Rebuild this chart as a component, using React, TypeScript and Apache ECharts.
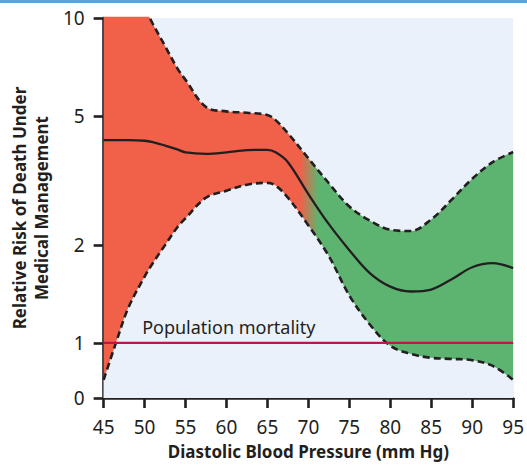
import { useEffect, useRef } from "react";
import * as echarts from "echarts";

// Diastolic blood pressure (mm Hg)
const dbpValues = [45, 46.5, 48, 50, 51, 52.5, 54, 55, 57.5, 60, 62.5, 65, 66, 67.5, 70, 72.5, 75, 77.5, 80, 82.5, 85, 87.5, 90, 92.5, 95];
// Upper 95% confidence bound of relative risk
const upperCI = [28, 19, 14, 10.8, 9.6, 8.2, 7.0, 6.45, 5.32, 5.16, 5.11, 5.03, 4.85, 4.42, 3.7, 3.1, 2.63, 2.38, 2.23, 2.21, 2.4, 2.76, 3.2, 3.6, 3.87];
// Lower 95% confidence bound of relative risk
const lowerCI = [0.77, 1.0, 1.28, 1.6, 1.76, 2.0, 2.27, 2.42, 2.8, 2.94, 3.07, 3.11, 3.05, 2.8, 2.3, 1.85, 1.4, 1.14, 0.98, 0.925, 0.9, 0.893, 0.885, 0.85, 0.77];
// Relative risk estimate
const riskEstimate = [4.21, 4.21, 4.21, 4.19, 4.15, 4.05, 3.94, 3.86, 3.82, 3.86, 3.92, 3.93, 3.86, 3.6, 2.87, 2.32, 1.93, 1.64, 1.49, 1.44, 1.46, 1.57, 1.71, 1.76, 1.7];

const populationMortality = 1;
const populationLabel = "Population mortality";
const populationLabelX = 49.7;

const xTickMin = 45;
const xTickMax = 95;
const xTickStep = 5;
const yTickValues = [0.677, 1, 2, 5, 10];
const yTickLabels = ["0", "1", "2", "5", "10"];

const xTitle = "Diastolic Blood Pressure (mm Hg)";
const yTitle = "Relative Risk of Death Under\nMedical Management";

const lg = (v: number) => Math.log10(v);

export default function App() {
  const ref = useRef<HTMLDivElement>(null);

  useEffect(() => {
    document.body.style.margin = "0";
    if (!ref.current) return;
    const chart = echarts.init(ref.current, undefined, { renderer: "svg" });
    const font = "Noto Sans";
    const axisColor = "#231F20";
    const red = "#F16049";
    const green = "#5DB470";
    const bg = "#EAF1FA";
    const yTickLogs = yTickValues.map(lg);

    const gradient = new echarts.graphic.LinearGradient(0, 0, 1, 0, [
      { offset: 0, color: red },
      { offset: 0.48, color: red },
      { offset: 0.525, color: green },
      { offset: 1, color: green },
    ]);

    const dash = { color: "#231F20", width: 2.6, type: [7, 4] as any };

    chart.setOption({
      animation: false,
      textStyle: { fontFamily: font },
      grid: {
        show: true,
        backgroundColor: bg,
        borderWidth: 0,
        left: 100,
        right: 11,
        top: 18,
        bottom: 68,
      },
      xAxis: {
        type: "value",
        min: xTickMin,
        max: xTickMax,
        interval: xTickStep,
        axisLine: { show: true, onZero: false, lineStyle: { color: axisColor, width: 2.6 } },
        axisTick: { show: true, length: 10, lineStyle: { color: axisColor, width: 2.6 } },
        axisLabel: { color: axisColor, fontSize: 19, margin: 19, fontFamily: font },
        splitLine: { show: false },
        name: xTitle,
        nameLocation: "middle",
        nameGap: 45,
        nameTextStyle: { color: axisColor, fontSize: 17, fontWeight: "bold", fontFamily: font },
      },
      yAxis: {
        type: "value",
        min: yTickLogs[0],
        max: yTickLogs[yTickLogs.length - 1],
        axisLine: { show: true, lineStyle: { color: axisColor, width: 2.6 } },
        axisTick: { show: true, length: 10, customValues: yTickLogs, lineStyle: { color: axisColor, width: 2.6 } },
        axisLabel: {
          customValues: yTickLogs,
          color: axisColor,
          fontSize: 19,
          margin: 19,
          fontFamily: font,
          formatter: (v: number) => {
            const i = yTickLogs.findIndex((t) => Math.abs(t - v) < 1e-6);
            return i >= 0 ? yTickLabels[i] : "";
          },
        },
        splitLine: { show: false },
        name: yTitle,
        nameLocation: "middle",
        nameGap: 51,
        nameTextStyle: { color: axisColor, fontSize: 17, fontWeight: "bold", lineHeight: 22, fontFamily: font },
      },
      series: [
        {
          name: "upper",
          type: "line",
          data: dbpValues.map((x, i) => [x, lg(upperCI[i])]),
          smooth: 0.35,
          symbol: "none",
          lineStyle: dash,
          areaStyle: { color: gradient, opacity: 1, origin: "start" },
          z: 1,
        },
        {
          name: "lower",
          type: "line",
          data: dbpValues.map((x, i) => [x, lg(lowerCI[i])]),
          smooth: 0.35,
          symbol: "none",
          lineStyle: dash,
          areaStyle: { color: bg, opacity: 1, origin: "start" },
          z: 2,
        },
        {
          name: "estimate",
          type: "line",
          data: dbpValues.map((x, i) => [x, lg(riskEstimate[i])]),
          smooth: 0.35,
          symbol: "none",
          lineStyle: { color: "#231F20", width: 2.3 },
          z: 3,
        },
        {
          name: "population",
          type: "line",
          data: [
            [xTickMin, lg(populationMortality)],
            [xTickMax, lg(populationMortality)],
          ],
          symbol: "none",
          lineStyle: { color: "#C0144C", width: 2.3 },
          z: 4,
        },
      ],
    });

    const p = chart.convertToPixel({ xAxisIndex: 0, yAxisIndex: 0 }, [populationLabelX, lg(populationMortality)]) as number[];
    chart.setOption({
      graphic: [
        {
          type: "rect",
          shape: { x: 0, y: 0, width: 527, height: 3 },
          style: { fill: "#5AA2DA" },
          silent: true,
        },
        {
          type: "text",
          x: p[0],
          y: p[1] - 7,
          style: {
            text: populationLabel,
            fontSize: 18,
            fontFamily: font,
            fill: axisColor,
            textAlign: "left",
            textVerticalAlign: "bottom",
          },
          z: 10,
        },
      ],
    });

    return () => chart.dispose();
  }, []);

  return <div ref={ref} style={{ width: 527, height: 466 }} />;
}
